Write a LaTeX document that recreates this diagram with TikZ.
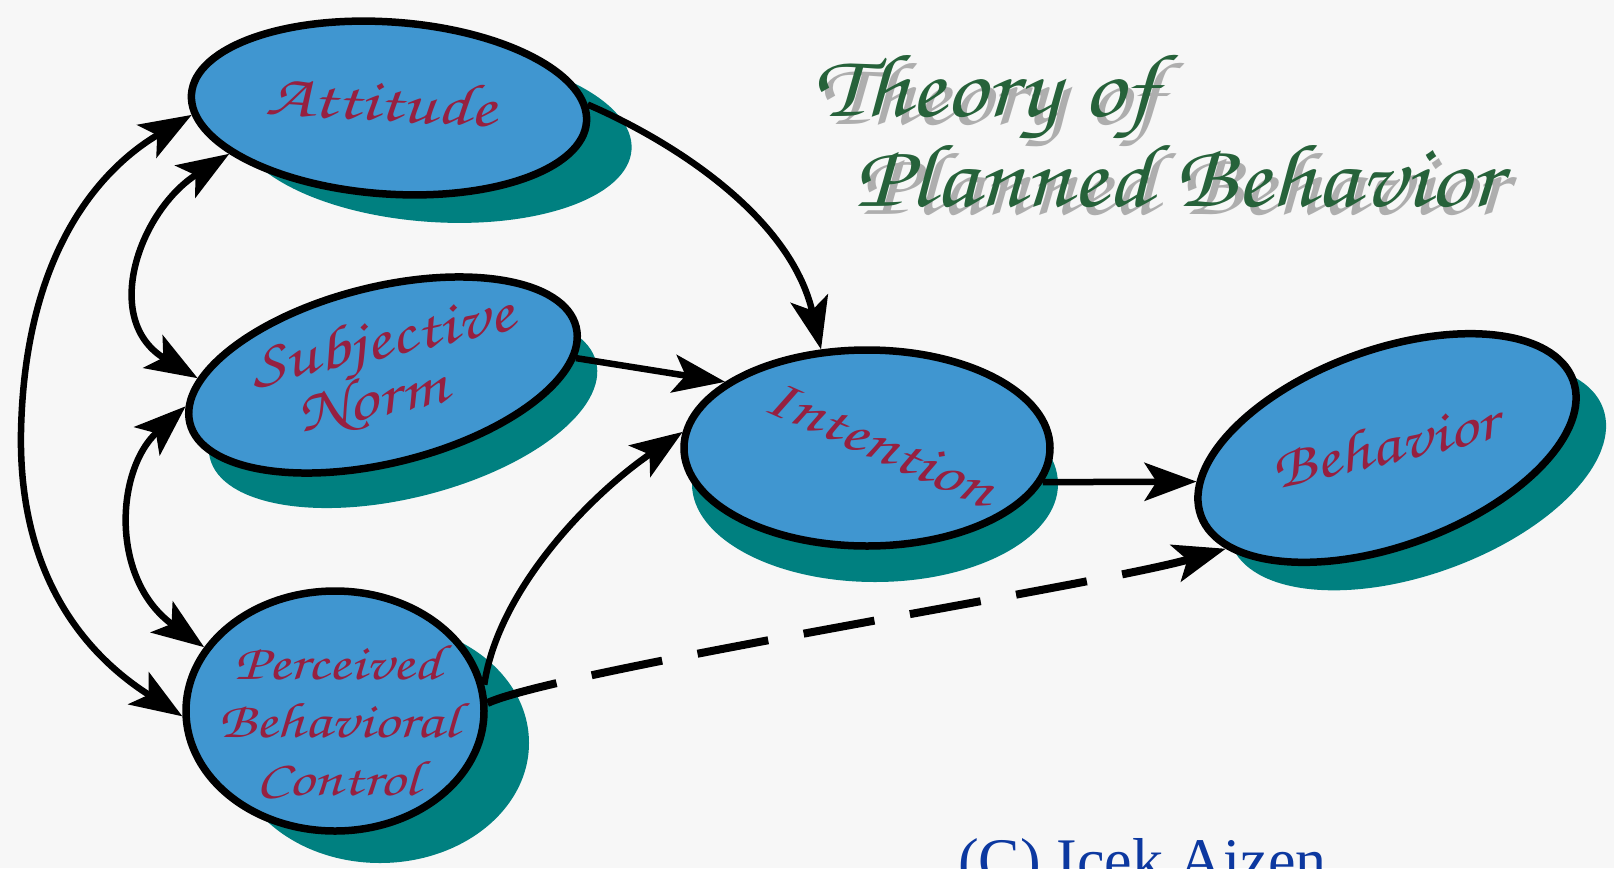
\documentclass[tikz,border=0pt]{standalone}
\usepackage{fontspec}
\usetikzlibrary{shapes.geometric,arrows.meta,calc}
\newfontfamily\handfont[FakeStretch=1.25]{texgyrechorus-mediumitalic.otf}
\newfontfamily\titlefont[FakeStretch=1.14]{texgyrechorus-mediumitalic.otf}
\newfontfamily\copyfont{Liberation Serif}
\definecolor{bgcol}{RGB}{247,247,247}
\definecolor{blobfill}{RGB}{64,150,208}
\definecolor{blobshadow}{RGB}{0,128,128}
\definecolor{labelred}{RGB}{150,32,64}
\definecolor{titlegreen}{RGB}{38,98,58}
\definecolor{copyblue}{RGB}{12,56,160}
\begin{document}
\begin{tikzpicture}[x=1pt,y=-1pt,
  blob/.style={ellipse, draw=black, line width=7.5pt, fill=blobfill, inner sep=0pt},
  blobshade/.style={ellipse, fill=blobshadow, inner sep=0pt},
  lbl/.style={text=labelred, align=center, inner sep=0pt},
  ttl/.style={font=\titlefont\fontsize{90}{100}\selectfont, text=titlegreen, inner sep=0pt, anchor=base west},
  ttlshade/.style={font=\titlefont\fontsize{90}{100}\selectfont, text=black!60, opacity=0.5, inner sep=0pt, anchor=base west},
  tip/.tip={Stealth[length=52pt,width=38pt,inset=12pt]},
  conn/.style={line width=6.5pt, -tip},
  dconn/.style={line width=6.5pt, tip-tip},
  dashconn/.style={line width=8pt, dash pattern=on 72pt off 36pt, -tip},
]
\useasboundingbox (0,0) rectangle (1614,868);
\fill[bgcol] (0,0) rectangle (1614,868);

% shadows
\node[blobshade, minimum width=396pt, minimum height=172pt, rotate=-4] (atts) at (434,136) {};
\node[blobshade, minimum width=398pt, minimum height=176pt, rotate=14] (sns) at (403,410) {};
\node[blobshade, minimum width=298pt, minimum height=240pt] (pbcs) at (380,743) {};
\node[blobshade, minimum width=366pt, minimum height=196pt] (ints) at (875,484) {};
\node[blobshade, minimum width=396pt, minimum height=196pt, rotate=20] (behs) at (1417,476) {};

% ellipses
\node[blob, minimum width=396pt, minimum height=172pt, rotate=-4] (att) at (389,108) {};
\node[blob, minimum width=398pt, minimum height=176pt, rotate=14] (sn) at (383,375) {};
\node[blob, minimum width=298pt, minimum height=240pt] (pbc) at (335,711) {};
\node[blob, minimum width=366pt, minimum height=196pt] (int) at (867,448) {};
\node[blob, minimum width=396pt, minimum height=196pt, rotate=20] (beh) at (1387,448) {};

% labels
\node[lbl, font=\handfont\fontsize{60}{66}\selectfont, rotate=-3] (attl) at (381,101) {Attitude};
\node[lbl, font=\handfont\fontsize{60}{48}\selectfont, rotate=12] (snl) at (388,370) {Subjective\\Norm\hspace*{44pt}};
\node[lbl, font=\handfont\fontsize{50}{58}\selectfont] (pbcl) at (338,722) {Perceived\\Behavioral\\Control};
\node[lbl, font=\handfont\fontsize{58}{66}\selectfont, rotate=-24] (intl) at (880,443) {Intention};
\node[lbl, font=\handfont\fontsize{58}{66}\selectfont, rotate=13] (behl) at (1384,445) {Behavior};

% title
\node[ttlshade] (t1s) at (819,124) {Theory of};
\node[ttlshade] (t2s) at (860,214) {Planned Behavior};
\node[ttl] (t1) at (813,116) {Theory of};
\node[ttl] (t2) at (854,206) {Planned Behavior};

% copyright
\node[font=\copyfont\fontsize{62}{70}\selectfont, text=copyblue, anchor=base west, inner sep=0pt] (copy) at (958,881) {(C) Icek Aizen};

% connectors
\coordinate (outermid) at (21,432);
\draw[conn] (att.5) .. controls (670,140) and (790,215) .. (int.115);
\draw[conn] (sn.-9) -- (int.155);
\draw[conn] (pbc.10) .. controls (498,590) and (590,495) .. (int.175);
\draw[conn] (int.-11) -- (beh.170);
\draw[dashconn] (pbc.3) .. controls (560,670) and (1100,585) .. (beh.192);
\draw[line width=6.5pt, tip-] (att.186) .. controls (115,160) and (25,235) .. (outermid);
\draw[line width=6.5pt, -tip] (outermid) .. controls (18,600) and (110,670) .. (pbc.182);
\draw[dconn] (att.200) .. controls (140,210) and (100,320) .. (sn.167);
\draw[dconn] (sn.175) .. controls (115,470) and (110,580) .. (pbc.154);
\end{tikzpicture}
\end{document}
